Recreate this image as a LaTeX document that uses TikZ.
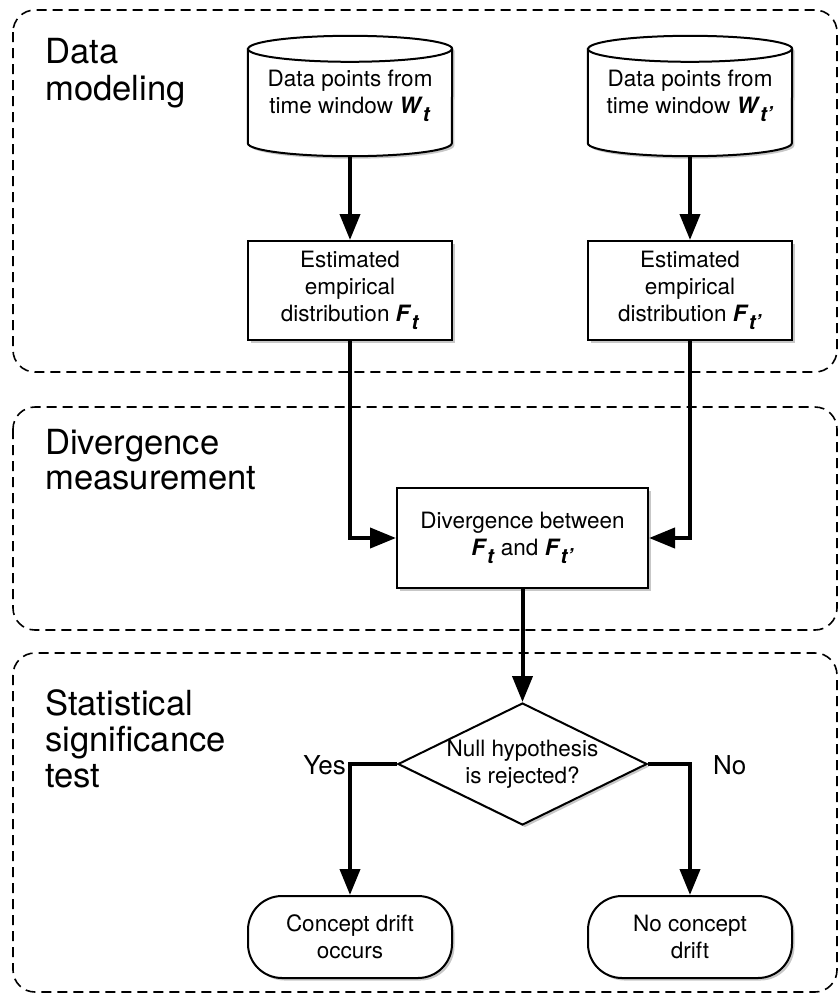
\documentclass[tikz,border=0pt]{standalone}
\usepackage{fontspec}
\setmainfont{TeX Gyre Heros}
\usetikzlibrary{shapes.geometric,arrows.meta,shadows,calc,backgrounds}
\newcommand\bvar[2]{\textbf{\textit{#1}}\raisebox{-0.33em}{\fontsize{20.5}{20.5}\selectfont\textbf{\textit{#2}}}}
\begin{document}
\begin{tikzpicture}[x=1pt,y=-1pt,line join=miter,
  sect/.style={draw, line width=1.6pt, dash pattern=on 10pt off 6pt, rounded corners=22pt},
  lbl/.style={anchor=base west, inner sep=0pt, font=\fontsize{34.6}{36}\selectfont},
  shad/.style={drop shadow={opacity=0.22, shadow xshift=2.5pt, shadow yshift=-2.5pt, fill=black}},
  txt/.style={align=center, font=\fontsize{22.5}{27}\selectfont, inner sep=0pt},
  stepbox/.style={txt, draw, line width=2pt, fill=white, shad, minimum width=204pt, minimum height=99pt},
  cyl/.style={txt, minimum width=204pt, minimum height=120pt},
  dia/.style={txt, diamond, aspect=2, draw, line width=2pt, fill=white, shad, inner sep=-8pt, minimum width=249pt, minimum height=122pt},
  term/.style={txt, draw, line width=2pt, fill=white, shad, rounded corners=34pt, minimum width=204pt, minimum height=82pt},
  yn/.style={inner sep=0pt, font=\fontsize{26}{30}\selectfont},
  conn/.style={line width=4pt, -{Triangle[length=26pt,width=20pt]}}]
\useasboundingbox (0,0) rectangle (840,997);

% section frames
\draw[sect] (13,10) rectangle (837,372);
\draw[sect] (13,407) rectangle (837,630);
\draw[sect] (13,653) rectangle (837,992);

% section labels
\node[lbl] (l1a) at (45,63) {Data};
\node[lbl] (l1b) at (45,100) {modeling};
\node[lbl] (l2a) at (45,454) {Divergence};
\node[lbl] (l2b) at (45,489) {measurement};
\node[lbl] (l3a) at (45,715) {Statistical};
\node[lbl] (l3b) at (45,751) {significance};
\node[lbl] (l3c) at (45,787) {test};

% cylinders (text nodes span 35..155)
\node[cyl] (cylL) at (350,96) {Data points from\\time window \bvar{W}{t}};
\node[cyl] (cylR) at (690,96) {Data points from\\time window \bvar{W}{t’}};
\begin{scope}[on background layer]
\foreach \c in {cylL,cylR}{
  \fill[black,opacity=0.22] ($(\c.north west)+(2.5,15.5)$) -- ($(\c.south west)+(2.5,-10.5)$)
     arc[start angle=180,end angle=360,x radius=102pt,y radius=13pt]
     -- ($(\c.north east)+(2.5,15.5)$) arc[start angle=0,end angle=180,x radius=102pt,y radius=13pt] -- cycle;
  \draw[line width=2pt, fill=white] ($(\c.north west)+(0,13)$) -- ($(\c.south west)+(0,-13)$)
     arc[start angle=180,end angle=360,x radius=102pt,y radius=13pt]
     -- ($(\c.north east)+(0,13)$) arc[start angle=0,end angle=180,x radius=102pt,y radius=13pt] -- cycle;
  \draw[line width=2pt] ($(\c.north west)+(0,13)$) arc[start angle=180,end angle=360,x radius=102pt,y radius=13pt];
}
\end{scope}

% boxes
\node[stepbox] (rectL) at (350,290.5) {Estimated\\empirical\\distribution \bvar{F}{t}};
\node[stepbox] (rectR) at (690,290.5) {Estimated\\empirical\\distribution \bvar{F}{t’}};
\node[stepbox, minimum width=251pt, minimum height=100pt] (div) at (522.5,538) {Divergence between\\\bvar{F}{t} and \bvar{F}{t’}};
\node[dia] (dia) at (522.5,764) {Null hypothesis\\is rejected?};
\node[term] (endL) at (350,937) {Concept drift\\occurs};
\node[term] (endR) at (690,937) {No concept\\drift};

% connectors
\draw[conn] (cylL.south) -- (rectL.north);
\draw[conn] (cylR.south) -- (rectR.north);
\draw[conn] (rectL.south) |- (div.west);
\draw[conn] (rectR.south) |- (div.east);
\draw[conn] (div.south) -- (dia.north);
\draw[conn] (dia.west) -| (endL.north);
\draw[conn] (dia.east) -| (endR.north);

% branch labels
\node[yn, anchor=east] (yes) at (346,765) {Yes};
\node[yn, anchor=west] (no) at (713,765) {No};
\end{tikzpicture}
\end{document}
